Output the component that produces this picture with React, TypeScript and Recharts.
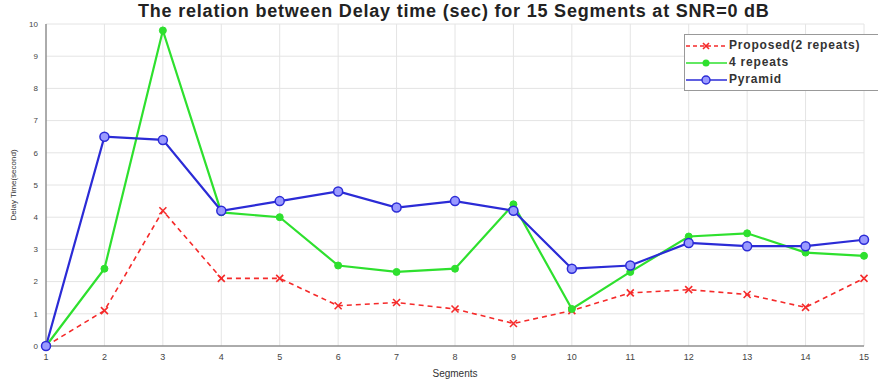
import React from 'react';
import { LineChart, Line, XAxis, YAxis, CartesianGrid } from 'recharts';

const segments = [1, 2, 3, 4, 5, 6, 7, 8, 9, 10, 11, 12, 13, 14, 15];
const proposed = [0, 1.1, 4.2, 2.1, 2.1, 1.25, 1.35, 1.15, 0.7, 1.1, 1.65, 1.75, 1.6, 1.2, 2.1];
const fourRepeats = [0, 2.4, 9.8, 4.15, 4.0, 2.5, 2.3, 2.4, 4.4, 1.15, 2.3, 3.4, 3.5, 2.9, 2.8];
const pyramid = [0, 6.5, 6.4, 4.2, 4.5, 4.8, 4.3, 4.5, 4.2, 2.4, 2.5, 3.2, 3.1, 3.1, 3.3];
const yTicks = [0, 1, 2, 3, 4, 5, 6, 7, 8, 9, 10];

const RED = '#f52a2a';
const GREEN = '#2ee02e';
const BLUE = '#2b2bd6';
const FONT = '"Liberation Sans", Arial, sans-serif';

const data = segments.map((s, i) => ({
  seg: s,
  proposed: proposed[i],
  four: fourRepeats[i],
  pyramid: pyramid[i],
}));

const CrossDot = (props: any) => {
  const { cx, cy } = props;
  if (cx == null || cy == null) return null;
  const d = 3.5;
  return (
    <g stroke={RED} strokeWidth={1.6}>
      <line x1={cx - d} y1={cy - d} x2={cx + d} y2={cy + d} />
      <line x1={cx - d} y1={cy + d} x2={cx + d} y2={cy - d} />
    </g>
  );
};

// legend drawn as an overlay so it does not shrink the plot area
const LegendBox = () => {
  const items = [
    { label: 'Proposed(2 repeats)', color: RED, dash: '4 3', kind: 'x' },
    { label: '4 repeats', color: GREEN, dash: undefined, kind: 'dot' },
    { label: 'Pyramid', color: BLUE, dash: undefined, kind: 'circle' },
  ];
  return (
    <div
      style={{
        position: 'absolute',
        left: 684,
        top: 34,
        border: '1px solid #999',
        background: '#fff',
        padding: '2px 0 2px 0',
        fontFamily: FONT,
        fontWeight: 'bold',
        fontSize: 12,
        letterSpacing: 0.8,
        color: '#333',
        lineHeight: '17px',
        width: 200,
        whiteSpace: 'nowrap',
      }}
    >
      {items.map((it) => (
        <div key={it.label} style={{ display: 'flex', alignItems: 'center' }}>
          <svg width={44} height={12} style={{ marginRight: 0 }}>
            <line x1={1} y1={6} x2={42} y2={6} stroke={it.color} strokeWidth={1.6} strokeDasharray={it.dash} />
            {it.kind === 'x' && (
              <g stroke={it.color} strokeWidth={1.6}>
                <line x1={18} y1={3} x2={24} y2={9} />
                <line x1={18} y1={9} x2={24} y2={3} />
              </g>
            )}
            {it.kind === 'dot' && <circle cx={21} cy={6} r={3.5} fill={it.color} />}
            {it.kind === 'circle' && <circle cx={21} cy={6} r={4} fill="#9a9aff" stroke={it.color} strokeWidth={1.4} />}
          </svg>
          <span>{it.label}</span>
        </div>
      ))}
    </div>
  );
};

export default function App() {
  return (
    <div style={{ position: 'absolute', left: 0, top: 0, width: 878, height: 381, background: '#fff', overflow: 'hidden' }}>
      <LineChart width={878} height={381} data={data} margin={{ top: 24, right: 14, bottom: 0, left: 0 }}>
        <CartesianGrid stroke="#e4e4e4" strokeWidth={1} />
        <XAxis
          dataKey="seg"
          type="number"
          domain={[1, 15]}
          ticks={segments}
          height={35}
          tickLine={false}
          axisLine={{ stroke: '#666' }}
          tick={{ fontSize: 9, fill: '#444', fontFamily: FONT }}
          label={{ value: 'Segments', position: 'insideBottom', offset: 4, fontSize: 10, fill: '#333', fontFamily: FONT }}
        />
        <YAxis
          type="number"
          domain={[0, 10]}
          ticks={yTicks}
          width={46}
          tickLine={false}
          axisLine={{ stroke: '#666' }}
          tick={{ fontSize: 8, fill: '#444', fontFamily: FONT }}
          label={{ value: 'Delay Time(second)', angle: -90, position: 'insideLeft', offset: 13, fontSize: 8, fill: '#333', fontFamily: FONT, style: { textAnchor: 'middle' } }}
        />
        <Line
          dataKey="proposed"
          name="Proposed(2 repeats)"
          stroke={RED}
          strokeWidth={1.6}
          strokeDasharray="5 4"
          dot={<CrossDot />}
          isAnimationActive={false}
        />
        <Line
          dataKey="four"
          name="4 repeats"
          stroke={GREEN}
          strokeWidth={2.2}
          dot={{ r: 3.5, fill: GREEN, stroke: GREEN, strokeWidth: 1 }}
          isAnimationActive={false}
        />
        <Line
          dataKey="pyramid"
          name="Pyramid"
          stroke={BLUE}
          strokeWidth={2.2}
          dot={{ r: 4.5, fill: '#9a9aff', stroke: BLUE, strokeWidth: 1.5 }}
          isAnimationActive={false}
        />
      </LineChart>
      <div
        style={{
          position: 'absolute',
          left: 138,
          top: 1,
          whiteSpace: 'nowrap',
          fontFamily: FONT,
          fontWeight: 'bold',
          fontSize: 18,
          letterSpacing: 0.8,
          color: '#222',
        }}
      >
        The relation between Delay time (sec) for 15 Segments at SNR=0 dB
      </div>
      <LegendBox />
    </div>
  );
}
